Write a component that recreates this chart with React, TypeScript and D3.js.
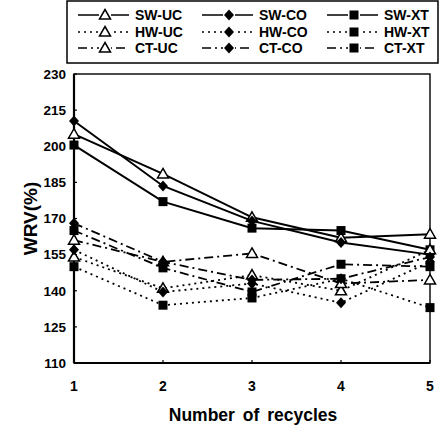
import React from 'react';
import * as d3 from 'd3';

// number of recycles
const recycles = [1, 2, 3, 4, 5];
const yTicks = [110, 125, 140, 155, 170, 185, 200, 215, 230];

// WRV(%) per series
const swUC = [205, 188.5, 170.5, 162, 163.5];
const swCO = [210.5, 183.5, 169, 160, 155];
const swXT = [200.5, 177, 166, 165, 157];
const hwUC = [154, 141, 146.5, 140, 157];
const hwCO = [157, 139.5, 143, 135, 152];
const hwXT = [150, 134, 137, 145, 133];
const ctUC = [161, 152, 155.5, 143, 144.5];
const ctCO = [168, 152, 144.5, 145, 154];
const ctXT = [165, 149.5, 139.5, 151, 150];

const seriesNames = ['SW-UC', 'SW-CO', 'SW-XT', 'HW-UC', 'HW-CO', 'HW-XT', 'CT-UC', 'CT-CO', 'CT-XT'];
const seriesValues = [swUC, swCO, swXT, hwUC, hwCO, hwXT, ctUC, ctCO, ctXT];

const W = 440, H = 432;
const plot = { left: 74, right: 430, top: 74, bottom: 363 };
const font = '"Liberation Sans", Arial, sans-serif';

const dashFor = (name: string) =>
  name.startsWith('SW') ? null : name.startsWith('HW') ? '2,4' : '9,4,2,4';

function Marker({ kind, x, y }: { kind: string; x: number; y: number }) {
  if (kind === 'UC') {
    return <path d={`M${x},${y - 5.5}L${x + 5.5},${y + 4}L${x - 5.5},${y + 4}Z`} fill="#fff" stroke="#000" strokeWidth={1.5} />;
  }
  if (kind === 'CO') {
    return <path d={`M${x},${y - 5.5}L${x + 5},${y}L${x},${y + 5.5}L${x - 5},${y}Z`} fill="#000" />;
  }
  return <rect x={x - 4.5} y={y - 4.5} width={9} height={9} fill="#000" />;
}

export default function App() {
  const x = d3.scaleLinear().domain([1, 5]).range([plot.left, plot.right]);
  const y = d3.scaleLinear().domain([110, 230]).range([plot.bottom, plot.top]);
  const line = d3.line<number>().x((_, i) => x(recycles[i])).y(d => y(d));

  // legend: 3 columns (UC, CO, XT) x 3 rows (SW, HW, CT)
  const legX = [78, 202, 327];
  const legY = [15, 32, 48];

  return (
    <svg width={W} height={H} style={{ position: 'absolute', left: 0, top: 0, background: '#fff' }}>
      <rect x={0} y={0} width={W} height={H} fill="#fff" />
      {/* frame */}
      <rect x={plot.left} y={plot.top} width={plot.right - plot.left} height={plot.bottom - plot.top}
        fill="none" stroke="#000" strokeWidth={1.4} />
      <line x1={plot.left} x2={plot.left} y1={plot.top} y2={plot.bottom} stroke="#000" strokeWidth={2.2} />
      <line x1={plot.left} x2={plot.right} y1={plot.bottom} y2={plot.bottom} stroke="#000" strokeWidth={2.2} />

      {yTicks.map(t => (
        <g key={t}>
          <line x1={plot.left} x2={plot.left + 3} y1={y(t)} y2={y(t)} stroke="#000" strokeWidth={1.2} />
          <text x={66} y={y(t)} dy="0.36em" textAnchor="end" fontFamily={font} fontWeight="bold" fontSize={13.5}>{t}</text>
        </g>
      ))}
      {recycles.map(r => (
        <g key={r}>
          <line x1={x(r)} x2={x(r)} y1={plot.bottom} y2={plot.bottom - 3} stroke="#000" strokeWidth={1.2} />
          <text x={x(r)} y={391} textAnchor="middle" fontFamily={font} fontWeight="bold" fontSize={14}>{r}</text>
        </g>
      ))}

      <text x={253} y={421} textAnchor="middle" fontFamily={font} fontWeight="bold" fontSize={17.5}
        wordSpacing={3}>Number of recycles</text>
      <text transform={`translate(37,${(plot.top + plot.bottom) / 2}) rotate(-90)`} textAnchor="middle"
        fontFamily={font} fontWeight="bold" fontSize={19}>WRV(%)</text>

      {seriesValues.map((vals, si) => {
        const name = seriesNames[si];
        const dash = dashFor(name);
        return (
          <g key={name}>
            <path d={line(vals) || ''} fill="none" stroke="#000" strokeWidth={dash ? 1.8 : 2}
              strokeDasharray={dash || undefined} />
            {vals.map((v, i) => (
              <Marker key={i} kind={name.slice(3)} x={x(recycles[i])} y={y(v)} />
            ))}
          </g>
        );
      })}

      {/* legend */}
      <rect x={67} y={1} width={371} height={62} fill="#fff" stroke="#000" strokeWidth={1.5} />
      {seriesNames.map((name, si) => {
        const col = si % 3, row = Math.floor(si / 3);
        const lx = legX[col], ly = legY[row];
        const dash = dashFor(name);
        return (
          <g key={name}>
            <line x1={lx} x2={lx + 51} y1={ly} y2={ly} stroke="#000" strokeWidth={1.6} strokeDasharray={dash || undefined} />
            <rect x={lx + 21} y={ly - 6} width={12} height={12} fill="#fff" />
            <Marker kind={name.slice(3)} x={lx + 27} y={ly} />
            <text x={lx + 57} y={ly} dy="0.36em" fontFamily={font} fontWeight="bold" fontSize={14}>{name}</text>
          </g>
        );
      })}
    </svg>
  );
}
